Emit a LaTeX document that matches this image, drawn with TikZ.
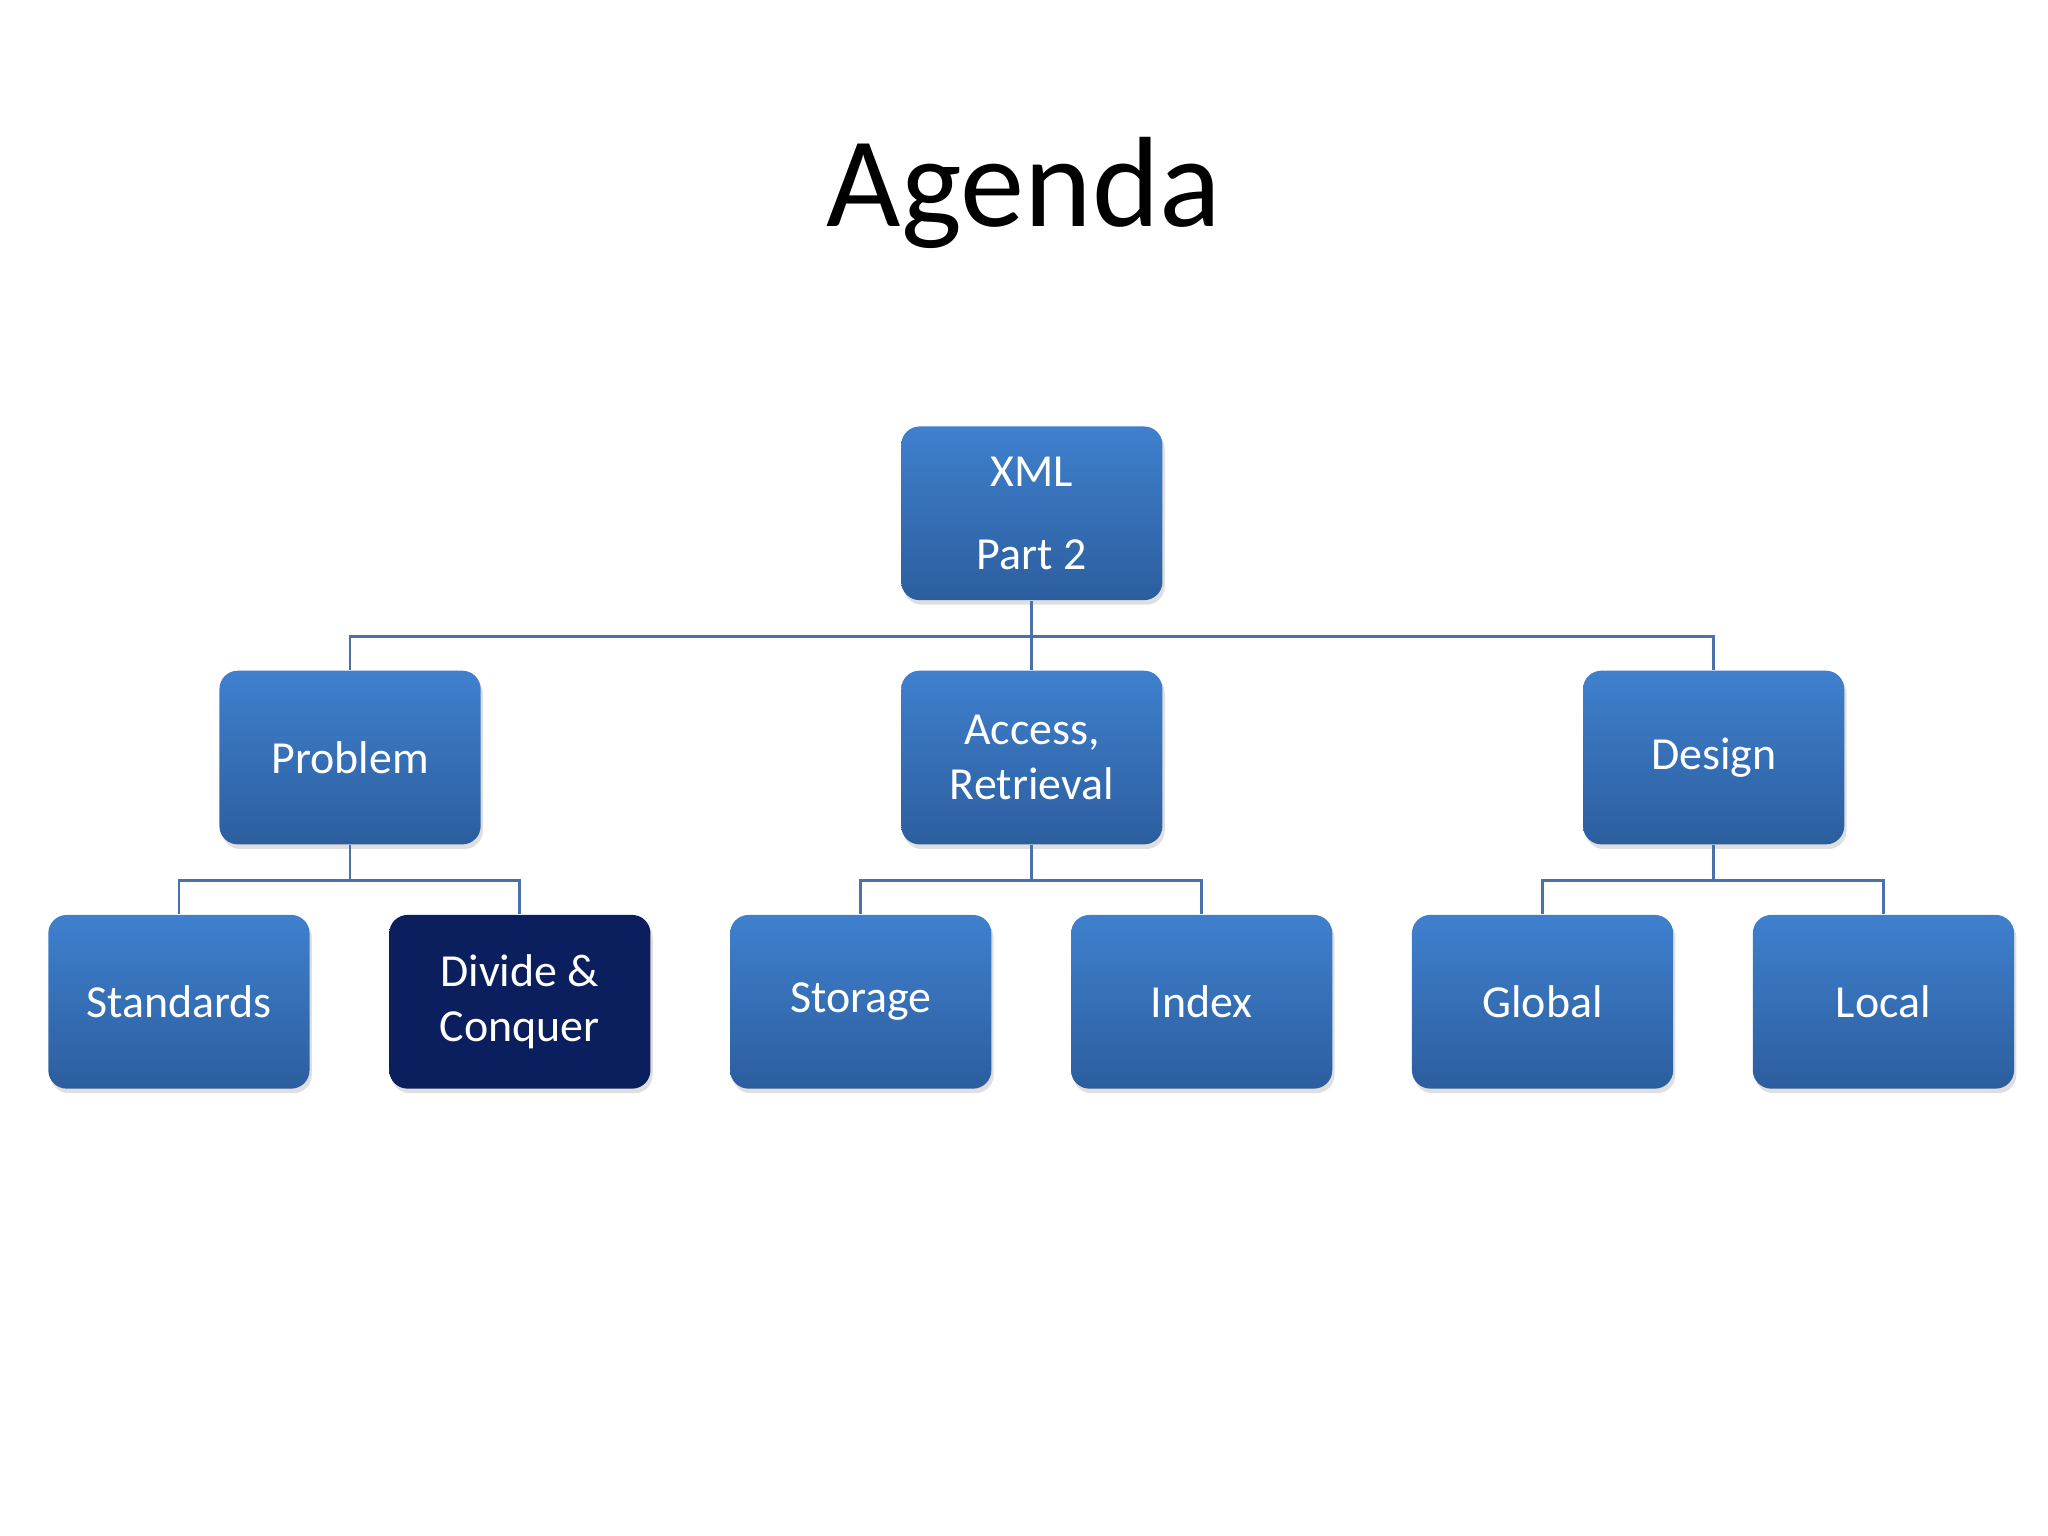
\documentclass[tikz,border=0pt]{standalone}
\usepackage{fontspec}
\setmainfont{Carlito}
\usetikzlibrary{positioning, shadows}
\definecolor{BoxTop}{HTML}{3F80CE}
\definecolor{BoxBot}{HTML}{2C5E9E}
\definecolor{BoxDark}{HTML}{0B1F5E}
\definecolor{Wire}{HTML}{4A72A8}
\tikzset{Box/.style={shape=rectangle, rounded corners=4pt, minimum width=2cm, minimum height=1.33cm,
    top color=BoxTop, bottom color=BoxBot, draw=none, text=white, align=center,
    font=\fontsize{10pt}{12pt}\selectfont, drop shadow={opacity=0.25, shadow xshift=0.5pt, shadow yshift=-1pt}}}
\tikzset{Hi/.style={Box, top color=BoxDark, bottom color=BoxDark}}
\tikzset{E/.style={draw=Wire, line width=0.6pt}}
\begin{document}
\begin{tikzpicture}
    \useasboundingbox (0,0) rectangle (15.68,-11.76);
    \node[font=\fontsize{28pt}{30pt}\selectfont] (title) at (7.84,-1.48) {Agenda};

    \node[Box] (xml) at (7.90,-3.93) {XML\\[6pt]Part 2};

    \node[Box] (prob) at (2.68,-5.80) {Problem};
    \node[Box] (acc)  at (7.90,-5.80) {Access,\\Retrieval};
    \node[Box] (des)  at (13.12,-5.80) {Design};

    \node[Box] (std)  at (1.37,-7.67) {Standards};
    \node[Hi]  (dc)   at (3.98,-7.67) {Divide \&\\Conquer};
    \node[Box] (sto)  at (6.59,-7.67) {Storage};
    \node[Box] (idx)  at (9.20,-7.67) {Index};
    \node[Box] (glo)  at (11.81,-7.67) {Global};
    \node[Box] (loc)  at (14.42,-7.67) {Local};

    %% connectors
    \foreach \a/\b in {xml/prob, xml/acc, xml/des, prob/std, prob/dc, acc/sto, acc/idx, des/glo, des/loc}
      \draw[E] (\a.south) -- ++(0,-0.27) -| (\b.north);
\end{tikzpicture}
\end{document}
